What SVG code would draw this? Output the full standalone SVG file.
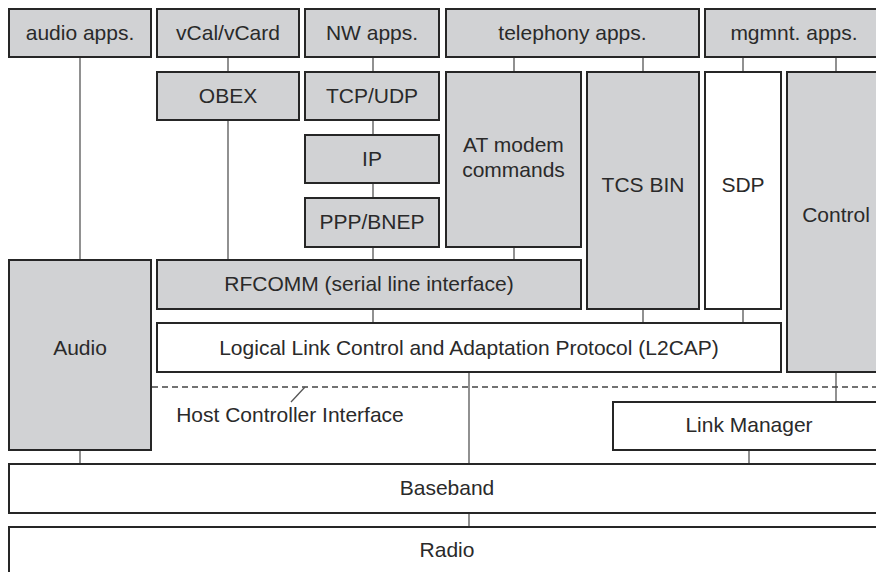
<svg xmlns="http://www.w3.org/2000/svg" width="876" height="572" viewBox="0 0 876 572">
<style>
.g{fill:#d1d2d4;stroke:#262626;stroke-width:2}
.w{fill:#ffffff;stroke:#262626;stroke-width:2}
text{font-family:"Liberation Sans",Arial,sans-serif;font-size:21px;fill:#2a2a2a;text-anchor:middle}
.c line{stroke:#555;stroke-width:1.3}
</style>
<rect width="876" height="572" fill="#fff"/>
<g class="c" id="connectors">
<line x1="80" y1="57" x2="80" y2="260"/>
<line x1="228" y1="57" x2="228" y2="72"/>
<line x1="228" y1="120" x2="228" y2="260"/>
<line x1="373" y1="57" x2="373" y2="72"/>
<line x1="373" y1="120" x2="373" y2="135"/>
<line x1="373" y1="183" x2="373" y2="198"/>
<line x1="373" y1="247" x2="373" y2="260"/>
<line x1="514" y1="57" x2="514" y2="72"/>
<line x1="643" y1="57" x2="643" y2="72"/>
<line x1="743" y1="57" x2="743" y2="72"/>
<line x1="836" y1="57" x2="836" y2="72"/>
<line x1="514" y1="247" x2="514" y2="260"/>
<line x1="373" y1="309" x2="373" y2="323"/>
<line x1="643" y1="309" x2="643" y2="323"/>
<line x1="743" y1="309" x2="743" y2="323"/>
<line x1="469" y1="372" x2="469" y2="464"/>
<line x1="836" y1="372" x2="836" y2="402"/>
<line x1="80" y1="450" x2="80" y2="464"/>
<line x1="749" y1="450" x2="749" y2="464"/>
<line x1="469" y1="513" x2="469" y2="527"/>
<line x1="152" y1="387" x2="876" y2="387" stroke-dasharray="6,4" style="stroke:#444"/>
<line x1="305" y1="387" x2="291" y2="402"/>
</g>
<g id="audio-apps"><rect class="g" x="9" y="9" width="142" height="48"/><text x="80" y="40">audio apps.</text></g>
<g id="vcal"><rect class="g" x="157" y="9" width="142" height="48"/><text x="228" y="40">vCal/vCard</text></g>
<g id="nw-apps"><rect class="g" x="305" y="9" width="134" height="48"/><text x="372" y="40">NW apps.</text></g>
<g id="telephony-apps"><rect class="g" x="446" y="9" width="253" height="48"/><text x="572.5" y="40">telephony apps.</text></g>
<g id="mgmnt-apps"><rect class="g" x="705" y="9" width="180" height="48"/><text x="794" y="40">mgmnt. apps.</text></g>
<g id="obex"><rect class="g" x="157" y="72" width="142" height="48"/><text x="228" y="103">OBEX</text></g>
<g id="tcpudp"><rect class="g" x="305" y="72" width="134" height="48"/><text x="372" y="103">TCP/UDP</text></g>
<g id="ip"><rect class="g" x="305" y="135" width="134" height="48"/><text x="372" y="166">IP</text></g>
<g id="ppp"><rect class="g" x="305" y="198" width="134" height="49"/><text x="372" y="229">PPP/BNEP</text></g>
<g id="at-modem"><rect class="g" x="446" y="72" width="135" height="175"/><text x="513.5" y="152">AT modem</text><text x="513.5" y="177">commands</text></g>
<g id="tcs-bin"><rect class="g" x="587" y="72" width="112" height="237"/><text x="643" y="192">TCS BIN</text></g>
<g id="sdp"><rect class="w" x="705" y="72" width="76" height="237"/><text x="743" y="192">SDP</text></g>
<g id="control"><rect class="g" x="787" y="72" width="98" height="300"/><text x="836" y="222">Control</text></g>
<g id="rfcomm"><rect class="g" x="157" y="260" width="424" height="49"/><text x="369" y="291">RFCOMM (serial line interface)</text></g>
<g id="audio"><rect class="g" x="9" y="260" width="142" height="190"/><text x="80" y="355">Audio</text></g>
<g id="l2cap"><rect class="w" x="157" y="323" width="624" height="49"/><text x="469" y="355">Logical Link Control and Adaptation Protocol (L2CAP)</text></g>
<g id="hci"><text x="290" y="422">Host Controller Interface</text></g>
<g id="link-manager"><rect class="w" x="613" y="402" width="272" height="48"/><text x="749" y="432">Link Manager</text></g>
<g id="baseband"><rect class="w" x="9" y="464" width="876" height="49"/><text x="447" y="495">Baseband</text></g>
<g id="radio"><rect class="w" x="9" y="527" width="876" height="50"/><text x="447" y="557">Radio</text></g>
</svg>
